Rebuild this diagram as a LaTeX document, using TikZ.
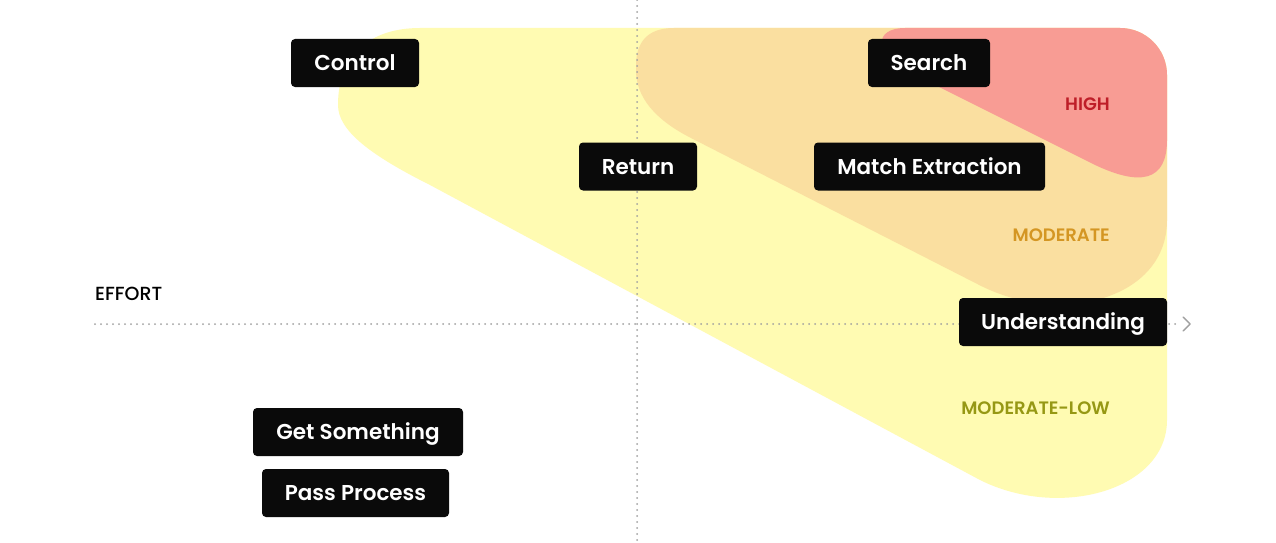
\documentclass[tikz,border=0pt]{standalone}
\usepackage{fontspec}
\setmainfont{Poppins}
\newfontfamily\semib{Poppins SemiBold}
\newfontfamily\medf{Poppins Medium}
\definecolor{yel}{RGB}{255,251,178}
\definecolor{org}{RGB}{250,223,160}
\definecolor{redf}{RGB}{248,156,148}
\definecolor{dotc}{RGB}{160,160,160}
\definecolor{highc}{RGB}{190,30,40}
\definecolor{modc}{RGB}{212,150,35}
\definecolor{lowc}{RGB}{150,152,20}
\definecolor{boxc}{RGB}{10,10,10}
\begin{document}
\begin{tikzpicture}[x=1pt,y=-1pt,
 tag/.style={fill=boxc, rounded corners=4pt, text=white, font=\fontsize{21.5}{25}\selectfont\semib, inner sep=0pt, minimum height=48pt, text height=15pt, text depth=0pt},
 lvl/.style={anchor=east, font=\fontsize{18}{22}\selectfont\semib, inner sep=0pt, text height=13pt, text depth=0pt},
 dotline/.style={draw=dotc, line width=2pt, line cap=round, dash pattern=on 0pt off 6pt}]
\useasboundingbox (0,0) rectangle (1276,543);
\fill[white] (0,0) rectangle (1276,543);
% zones
\fill[yel] (420,28) -- (1120,28) .. controls (1146,28) and (1167,49) .. (1167,75) -- (1167,420)
  .. controls (1167,490) and (1060,520) .. (980,480) -- (430,185)
  .. controls (368.7,154.3) and (338,130) .. (338,105)
  .. controls (338,55) and (370,28) .. (420,28) -- cycle;
\fill[org] (674,28) -- (1120,28) .. controls (1146,28) and (1167,49) .. (1167,75) -- (1167,220)
  .. controls (1167,300) and (1060,326) .. (980,285.4) -- (691,138)
  .. controls (654.3,119.3) and (636,96.7) .. (636,70) -- (636,66)
  .. controls (636,40.7) and (648.7,28) .. (674,28) -- cycle;
\fill[redf] (905,28) -- (1120,28) .. controls (1146,28) and (1167,49) .. (1167,75) -- (1167,140)
  .. controls (1167,180.7) and (1141.3,188.2) .. (1090,162.5) -- (915,75)
  .. controls (870,52) and (875,28) .. (905,28) -- cycle;
% axes
\coordinate (vt) at (637,0);
\coordinate (vb) at (637,543);
\coordinate (hl) at (95,324);
\coordinate (hr) at (1177,324);
\draw[dotline] (vt) -- (vb);
\draw[dotline] (hl) -- (hr);
\draw[dotc, line width=1.4pt, line cap=round, line join=round] (1183,317) -- (1190,324) -- (1183,331);
% tags
\node[tag, minimum width=128pt] (control) at (355,63) {Control};
\node[tag, minimum width=122pt] (search) at (929,63) {Search};
\node[tag, minimum width=118pt] (return) at (638,166.5) {Return};
\node[tag, minimum width=231pt] (match) at (929.5,166.5) {Match Extraction};
\node[tag, minimum width=208pt] (under) at (1063,322) {Understanding};
\node[tag, minimum width=210pt] (get) at (358,432) {Get Something};
\node[tag, minimum width=187pt] (pass) at (355.5,493) {Pass Process};
% labels
\node[lvl, text=highc] (high) at (1110,104) {HIGH};
\node[lvl, text=modc] (mod) at (1110,234.5) {MODERATE};
\node[lvl, text=lowc] (low) at (1110,407.5) {MODERATE-LOW};
\node[anchor=west, font=\fontsize{19}{22}\selectfont\medf, inner sep=0pt, text height=13pt, text depth=0pt] (effort) at (95,293.5) {EFFORT};
\end{tikzpicture}
\end{document}
